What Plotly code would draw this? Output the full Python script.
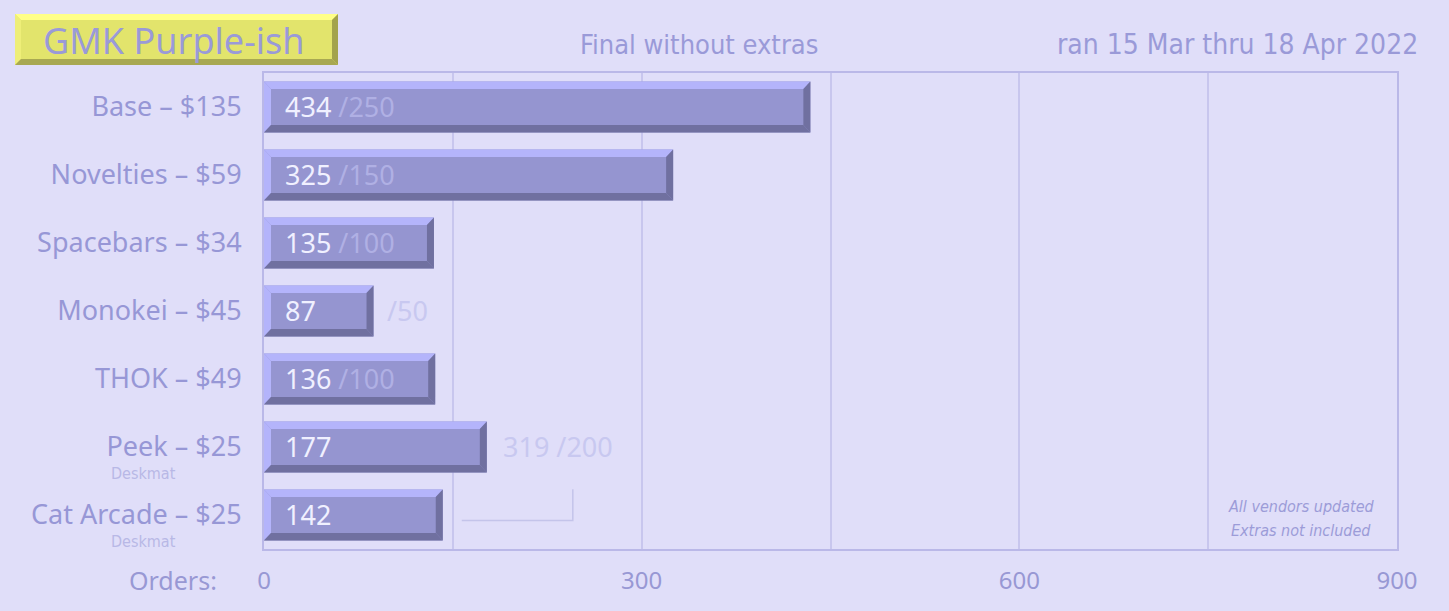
import plotly.graph_objects as go

# ---------------- data ----------------
categories = ["Base – $135", "Novelties – $59", "Spacebars – $34", "Monokei – $45",
              "THOK – $49", "Peek – $25", "Cat Arcade – $25"]
orders = [434, 325, 135, 87, 136, 177, 142]
moq = [250, 150, 100, 50, 100, None, None]
sublabels = ["", "", "", "", "", "Deskmat", "Deskmat"]
deskmat_moq = 200
x_ticks = [0, 300, 600, 900]
notes = ["All vendors updated", "Extras not included"]

# ---------------- style ----------------
BG = "#e0def9"
FACE = "#9595d0"
LIGHT = "#b4b4fb"
DARK = "#7070a0"
LABEL = "#9797d6"
TEXTFONT = "Noto Sans, Lato, sans-serif"
NARROW = "Liberation Sans Narrow, DejaVu Sans Condensed, Roboto, sans-serif"

L, R, T, B = 264, 52, 73, 62
W, H = 1449, 611
PW, PH = W - L - R, H - T - B
XMAX = 900
ncat = len(categories)
px_per_unit = PW / XMAX
cat_px = PH / ncat


def px(xp):
    return (xp - L) / PW


def py(yp):
    return (H - B - yp) / PH


fig = go.Figure()
fig.add_trace(go.Bar(
    x=orders, y=categories, orientation="h",
    marker=dict(color=FACE, line=dict(width=0)),
    hoverinfo="x+y", showlegend=False,
))

shapes = []
half = 0.375
dy = 7.5 / cat_px
dx = 7 / px_per_unit


def poly(pts, color, xref="x", yref="y"):
    d = "M " + " L ".join(f"{a},{b}" for a, b in pts) + " Z"
    return dict(type="path", path=d, xref=xref, yref=yref, fillcolor=color,
                line=dict(width=0), layer="above")


for i, v in enumerate(orders):
    c = i
    top, bot = c - half, c + half
    shapes.append(poly([(0, top), (v, top), (v - dx, top + dy), (dx, top + dy)], LIGHT))
    shapes.append(poly([(0, top), (dx, top + dy), (dx, bot - dy), (0, bot)], LIGHT))
    shapes.append(poly([(0, bot), (v, bot), (v - dx, bot - dy), (dx, bot - dy)], DARK))
    shapes.append(poly([(v, top), (v, bot), (v - dx, bot - dy), (v - dx, top + dy)], DARK))

annotations = []
fit_px = 140
BARFONT = 27
for i, (cat, v, m) in enumerate(zip(categories, orders, moq)):
    if m is not None and v * px_per_unit > fit_px:
        txt = f"{v} <span style='color:#b0b0e4'>/{m}</span>"
        annotations.append(dict(x=0, y=cat, xref="x", yref="y", text=txt, showarrow=False,
                                xanchor="left", xshift=19, yshift=1,
                                font=dict(size=BARFONT, color="#f0f0ff", family=TEXTFONT)))
    else:
        annotations.append(dict(x=0, y=cat, xref="x", yref="y", text=str(v), showarrow=False,
                                xanchor="left", xshift=19, yshift=1,
                                font=dict(size=BARFONT, color="#f0f0ff", family=TEXTFONT)))
        if m is not None:
            annotations.append(dict(x=v, y=cat, xref="x", yref="y", text=f"/{m}", showarrow=False,
                                    xanchor="left", xshift=11, yshift=1,
                                    font=dict(size=BARFONT, color="#c8c8f0", family=TEXTFONT)))

# deskmat combined total
desk_idx = [i for i, s in enumerate(sublabels) if s == "Deskmat"]
desk_total = sum(orders[i] for i in desk_idx)
peek_i, cat_i = desk_idx[0], desk_idx[1]
annotations.append(dict(x=orders[peek_i], y=categories[peek_i], xref="x", yref="y",
                        text=f"{desk_total} /{deskmat_moq}", showarrow=False, xanchor="left", xshift=14,
                        yshift=1, font=dict(size=BARFONT, color="#c8c8f0", family=TEXTFONT)))
line_x = orders[peek_i] + 86 / px_per_unit
start_x = orders[cat_i] + 19 / px_per_unit
shapes.append(dict(type="path", xref="x", yref="y",
                   path=f"M {start_x},{cat_i + 0.08} L {line_x},{cat_i + 0.08} L {line_x},{peek_i + 0.62}",
                   line=dict(color="#c4c4ea", width=1.5), layer="above"))

# sublabels "Deskmat"
for i, s in enumerate(sublabels):
    if s:
        annotations.append(dict(x=px(109), y=categories[i], xref="paper", yref="y", text=s,
                                showarrow=False, xanchor="left", yshift=-26,
                                font=dict(size=16, color="#b8b8e6", family=NARROW)))

# title box
bx0, bx1, by0, by1 = 15, 338, 14, 65
bv = 6
shapes += [
    poly([(px(bx0), py(by0)), (px(bx1), py(by0)), (px(bx1), py(by1)), (px(bx0), py(by1))], "#e2e46c", "paper", "paper"),
    poly([(px(bx0), py(by0)), (px(bx1), py(by0)), (px(bx1 - bv), py(by0 + bv)), (px(bx0 + bv), py(by0 + bv))], "#ffff88", "paper", "paper"),
    poly([(px(bx0), py(by0)), (px(bx0 + bv), py(by0 + bv)), (px(bx0 + bv), py(by1 - bv)), (px(bx0), py(by1))], "#eeee78", "paper", "paper"),
    poly([(px(bx0), py(by1)), (px(bx1), py(by1)), (px(bx1 - bv), py(by1 - bv)), (px(bx0 + bv), py(by1 - bv))], "#a8a852", "paper", "paper"),
    poly([(px(bx1), py(by0)), (px(bx1), py(by1)), (px(bx1 - bv), py(by1 - bv)), (px(bx1 - bv), py(by0 + bv))], "#a3a34c", "paper", "paper"),
]

annotations += [
    dict(x=px(174), y=py(40), xref="paper", yref="paper", text="GMK Purple-ish", showarrow=False,
         xanchor="center", yanchor="middle", font=dict(size=36, color="#9a9ad8", family=TEXTFONT)),
    dict(x=px(699), y=py(44), xref="paper", yref="paper", text="Final without extras", showarrow=False,
         xanchor="center", yanchor="middle", font=dict(size=27, color="#9a9ad8", family=NARROW)),
    dict(x=px(1420), y=py(44), xref="paper", yref="paper", text="ran 15 Mar thru 18 Apr 2022", showarrow=False,
         xanchor="right", yanchor="middle", font=dict(size=28, color="#9a9ad8", family=NARROW)),
    dict(x=px(219), y=py(580), xref="paper", yref="paper", text="Orders:", showarrow=False,
         xanchor="right", yanchor="middle", font=dict(size=25, color="#9898d4", family=TEXTFONT)),
]
for k, note in enumerate(notes):
    annotations.append(dict(x=px(1301), y=py(506 + 24 * k), xref="paper", yref="paper",
                            text=f"<i>{note}</i>", showarrow=False, xanchor="center", yanchor="middle",
                            font=dict(size=16, color="#9c9cd8", family=NARROW)))

fig.update_layout(
    width=W, height=H,
    paper_bgcolor=BG, plot_bgcolor=BG,
    margin=dict(l=L, r=R, t=T, b=B),
    bargap=0.25,
    shapes=shapes, annotations=annotations,
    font=dict(family=TEXTFONT, color=LABEL),
    xaxis=dict(range=[0, XMAX], tickvals=x_ticks, showgrid=True, gridcolor="#c8c6ee", gridwidth=1.5,
               minor=dict(dtick=150, showgrid=True, gridcolor="#c8c6ee", gridwidth=1.5),
               showline=True, mirror=True, linecolor="#bab8e8", linewidth=2, zeroline=False,
               tickfont=dict(size=24, color="#9898d4", family=TEXTFONT), ticks="", ticklabelstandoff=9,
               fixedrange=True),
    yaxis=dict(type="category", categoryarray=categories, autorange="reversed", showgrid=False,
               showline=True, mirror=True, linecolor="#bab8e8", linewidth=2, zeroline=False,
               tickfont=dict(size=27, color=LABEL, family=TEXTFONT), ticks="", ticklabelstandoff=15,
               fixedrange=True),
)

fig.write_html("out.html", config={"displayModeBar": False},
               post_script="document.body.style.margin='0';document.body.style.background='#e0def9';")
